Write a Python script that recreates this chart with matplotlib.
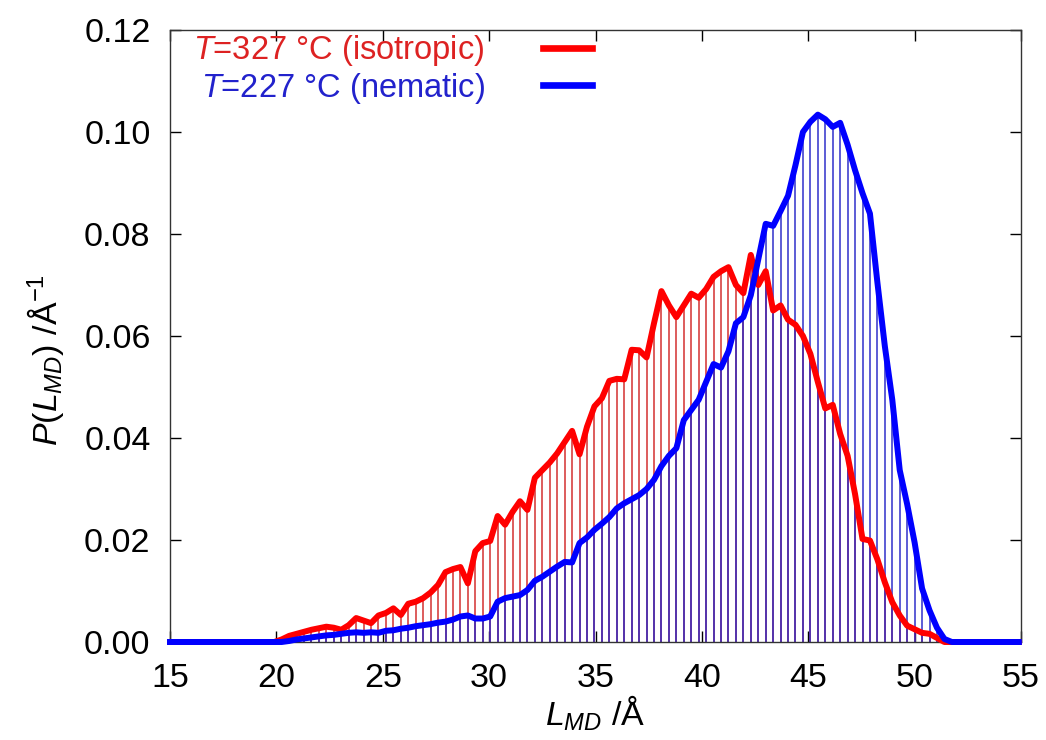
import numpy as np
import matplotlib
matplotlib.use("Agg")
import matplotlib.pyplot as plt
from matplotlib.lines import Line2D

plt.rcParams['font.family'] = ['Liberation Sans', 'DejaVu Sans']
plt.rcParams['mathtext.fontset'] = 'custom'
plt.rcParams['mathtext.rm'] = 'Liberation Sans'
plt.rcParams['mathtext.it'] = 'Liberation Sans:italic'

# ---- data (histogram bin centres start at 15 A, bin width 0.35 A) ----
bin_start = 15.0
bin_width = 0.35

p_isotropic = [
    0, 0, 0, 0, 0, 0, 0, 0, 0, 0, 0, 0, 0, 0, 0,
    0.0005, 0.0012, 0.0016, 0.0020, 0.0024, 0.0027, 0.0030, 0.0028, 0.0024, 0.0033,
    0.0047, 0.0042, 0.0037, 0.0052, 0.0057, 0.0066, 0.0053, 0.0075, 0.0079, 0.0086,
    0.0097, 0.0112, 0.0137, 0.0143, 0.0147, 0.0115, 0.0178, 0.0194, 0.0198, 0.0247,
    0.0230, 0.0255, 0.0276, 0.0259, 0.0322, 0.0337, 0.0352, 0.0370, 0.0392, 0.0414,
    0.0368, 0.0422, 0.0462, 0.0478, 0.0512, 0.0516, 0.0515, 0.0573, 0.0572, 0.0558,
    0.0625, 0.0688, 0.0660, 0.0637, 0.0660, 0.0683, 0.0675, 0.0692, 0.0716, 0.0727,
    0.0735, 0.0700, 0.0684, 0.0759, 0.0700, 0.0727, 0.0650, 0.0660, 0.0632, 0.0622,
    0.0600, 0.0565, 0.0510, 0.0458, 0.0465, 0.0408, 0.0365, 0.0290, 0.0202, 0.0199,
    0.0162, 0.0117, 0.0078, 0.0052, 0.0032, 0.0025, 0.0018, 0.0016, 0.0008,
    0, 0, 0, 0, 0, 0, 0, 0, 0, 0, 0,
]

p_nematic = [
    0, 0, 0, 0, 0, 0, 0, 0, 0, 0, 0, 0, 0, 0, 0, 0,
    0.0002, 0.0005, 0.0007, 0.0009, 0.0011, 0.0013, 0.0014, 0.0016, 0.0018,
    0.0019, 0.0018, 0.0019, 0.0018, 0.0022, 0.0023, 0.0026, 0.0028, 0.0031, 0.0033,
    0.0035, 0.0038, 0.0040, 0.0044, 0.0050, 0.0052, 0.0046, 0.0046, 0.0050, 0.0079,
    0.0086, 0.0089, 0.0092, 0.0102, 0.0120, 0.0128, 0.0138, 0.0148, 0.0157, 0.0156,
    0.0194, 0.0205, 0.0220, 0.0232, 0.0245, 0.0262, 0.0272, 0.0280, 0.0288, 0.0300,
    0.0318, 0.0345, 0.0365, 0.0380, 0.0435, 0.0455, 0.0475, 0.0510, 0.0545, 0.0538,
    0.0570, 0.0625, 0.0637, 0.0680, 0.0750, 0.0820, 0.0816, 0.0845, 0.0875, 0.0935,
    0.1000, 0.1020, 0.1034, 0.1025, 0.1010, 0.1018, 0.0975, 0.0925, 0.0880, 0.0840,
    0.0705, 0.0580, 0.0475, 0.0337, 0.0270, 0.0195, 0.0105, 0.0062, 0.0028, 0.0006,
    0, 0, 0, 0, 0, 0, 0, 0, 0, 0,
]

labels = [r'$T$=327 °C (isotropic)', r'$T$=227 °C (nematic)']
x_ticks = [15, 20, 25, 30, 35, 40, 45, 50, 55]
y_ticks = [0.00, 0.02, 0.04, 0.06, 0.08, 0.10, 0.12]

x = bin_start + bin_width * np.arange(len(p_isotropic))

RED = '#ff0000'
BLUE = '#0000ff'
FS = 24.5
FS_LEG = 23.5

fig = plt.figure(figsize=(10.46, 7.40), dpi=100)
ax = fig.add_axes([170/1046, 1 - 642/740, (1021-170)/1046, (642-30)/740])

# impulses
ax.vlines(x, 0, p_isotropic, colors=(0.82, 0.15, 0.15), linewidth=1.4, alpha=0.75, zorder=2)
ax.vlines(x, 0, p_nematic, colors=(0.15, 0.15, 0.78), linewidth=1.4, alpha=0.75, zorder=2)
# thick lines
ax.plot(x, p_isotropic, color=RED, linewidth=4.3, solid_joinstyle='round', zorder=4, clip_on=False)
ax.plot(x, p_nematic, color=BLUE, linewidth=4.3, solid_joinstyle='round', zorder=5, clip_on=False)

ax.set_xlim(15, 55)
ax.set_ylim(0, 0.12)
ax.set_xticks(x_ticks)
ax.set_yticks(y_ticks)
ax.set_xticklabels([str(t) for t in x_ticks])
ax.set_yticklabels(['%.2f' % t for t in y_ticks])
ax.tick_params(axis='both', direction='in', length=8, width=1, labelsize=FS,
               top=True, right=True)
ax.tick_params(axis='y', pad=14)
ax.tick_params(axis='x', pad=15)
for s in ax.spines.values():
    s.set_linewidth(1.0)
    s.set_color('#333333')

ax.set_xlabel(r'$L_{MD}$ /Å', fontsize=FS, labelpad=0)
ax.set_ylabel(r'$P(L_{MD})$ /Å$^{-1}$', fontsize=FS)
ax.yaxis.set_label_coords(-0.122, 0.46)

handles = [Line2D([], [], color=RED, linewidth=4.8),
           Line2D([], [], color=BLUE, linewidth=4.8)]
leg = ax.legend(handles, labels, loc='upper left', bbox_to_anchor=(0.012, 1.016),
                frameon=False, markerfirst=False, fontsize=FS_LEG,
                handlelength=1.5, handletextpad=1.8, labelspacing=0.08,
                borderaxespad=0.0)
leg.get_texts()[0].set_color('#dd2222')
leg.get_texts()[1].set_color('#2222cc')

fig.savefig('out.png', dpi=100)
